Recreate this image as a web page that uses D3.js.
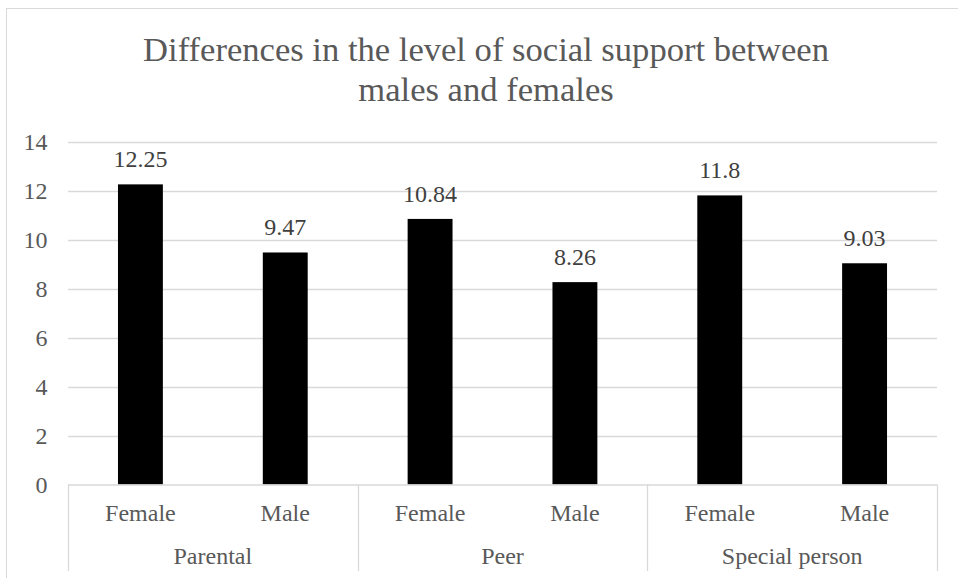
<!DOCTYPE html>
<html>
<head>
<meta charset="utf-8">
<script src="https://cdn.jsdelivr.net/npm/d3@7"></script>
<style>
  html, body { margin: 0; padding: 0; background: #fff; }
  svg { display: block; }
</style>
</head>
<body>
<script>
const titleLines = ["Differences in the level of social support between", "males and females"];
const groups = ["Parental", "Peer", "Special person"];
const genders = ["Female", "Male"];
const femaleValues = [12.25, 10.84, 11.8];
const maleValues = [9.47, 8.26, 9.03];
const yTicks = [0, 2, 4, 6, 8, 10, 12, 14];

const FONT = "'Liberation Serif', 'Times New Roman', Times, monospace";
const W = 958, H = 578;
const plot = { left: 68, right: 937, top: 141.5, bottom: 484.5 };

const data = [];
groups.forEach((g, gi) => {
  data.push({ group: g, gender: genders[0], value: femaleValues[gi], key: g + "|" + genders[0] });
  data.push({ group: g, gender: genders[1], value: maleValues[gi], key: g + "|" + genders[1] });
});

const svg = d3.select("body").append("svg").attr("width", W).attr("height", H);

// chart border
svg.append("rect")
  .attr("x", 6.5).attr("y", 8.5).attr("width", W + 10).attr("height", H + 10)
  .attr("fill", "#fff").attr("stroke", "#d9d9d9").attr("stroke-width", 1);

const y = d3.scaleLinear().domain([0, 14]).range([plot.bottom, plot.top]);
const x = d3.scaleBand().domain(data.map(d => d.key)).range([plot.left, plot.right]).padding(0);
const xg = d3.scaleBand().domain(groups).range([plot.left, plot.right]).padding(0);

// gridlines
svg.append("g").selectAll("line").data(yTicks.filter(t => t > 0)).join("line")
  .attr("x1", plot.left).attr("x2", plot.right)
  .attr("y1", d => Math.round(y(d)) + 0.5).attr("y2", d => Math.round(y(d)) + 0.5)
  .attr("stroke", "#d9d9d9").attr("stroke-width", 1.3);

// y axis labels
const yAxis = d3.axisLeft(y).tickValues(yTicks).tickSize(0).tickPadding(0);
const yg = svg.append("g").attr("transform", `translate(${47.5},0)`).call(yAxis);
yg.select(".domain").remove();
yg.attr("font-family", null).attr("font-size", null);
yg.selectAll("text")
  .style("font-family", FONT).style("font-size", "24px")
  .attr("fill", "#595959")
  .attr("dy", "0.32em");

// bars
const barW = x.bandwidth() * 0.31;
svg.append("g").selectAll("rect").data(data).join("rect")
  .attr("x", d => x(d.key) + (x.bandwidth() - barW) / 2)
  .attr("y", d => y(d.value))
  .attr("width", barW)
  .attr("height", d => y(0) - y(d.value))
  .attr("fill", "#000");

// data labels
svg.append("g").selectAll("text").data(data).join("text")
  .attr("x", d => x(d.key) + x.bandwidth() / 2)
  .attr("y", d => y(d.value) - 17)
  .attr("text-anchor", "middle")
  .style("font-family", FONT).style("font-size", "24px")
  .attr("fill", "#404040")
  .text(d => d.value);

// category axis line
svg.append("line")
  .attr("x1", plot.left).attr("x2", plot.right)
  .attr("y1", plot.bottom + 0.5).attr("y2", plot.bottom + 0.5)
  .attr("stroke", "#d9d9d9").attr("stroke-width", 1.3);

// group separators
const seps = groups.map(g => xg(g)).concat([plot.right]);
svg.append("g").selectAll("line").data(seps).join("line")
  .attr("x1", d => Math.round(d) + 0.5).attr("x2", d => Math.round(d) + 0.5)
  .attr("y1", plot.bottom).attr("y2", 571)
  .attr("stroke", "#d9d9d9").attr("stroke-width", 1.3);

// gender labels
svg.append("g").selectAll("text").data(data).join("text")
  .attr("x", d => x(d.key) + x.bandwidth() / 2)
  .attr("y", 521)
  .attr("text-anchor", "middle")
  .style("font-family", FONT).style("font-size", "24px")
  .attr("fill", "#595959")
  .text(d => d.gender);

// group labels
svg.append("g").selectAll("text").data(groups).join("text")
  .attr("x", d => xg(d) + xg.bandwidth() / 2)
  .attr("y", 563.5)
  .attr("text-anchor", "middle")
  .style("font-family", FONT).style("font-size", "24px")
  .attr("fill", "#595959")
  .text(d => d);

// title
svg.append("g").selectAll("text").data(titleLines).join("text")
  .attr("x", 486)
  .attr("y", (d, i) => 61 + i * 40)
  .attr("text-anchor", "middle")
  .style("font-family", FONT).style("font-size", "34.6px")
  .attr("fill", "#595959")
  .text(d => d);
</script>
</body>
</html>
